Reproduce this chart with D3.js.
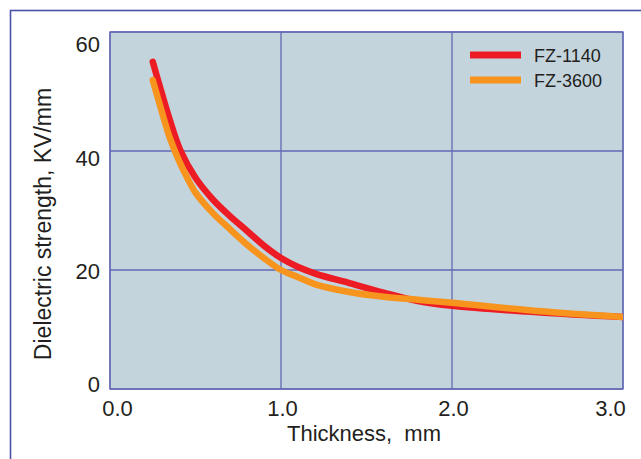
<!DOCTYPE html>
<html>
<head>
<meta charset="utf-8">
<script src="https://cdn.jsdelivr.net/npm/d3@7"></script>
<style>
  html, body { margin: 0; padding: 0; background: #ffffff; }
  svg { display: block; font-family: "Liberation Sans", Arial, Helvetica, sans-serif; }
</style>
</head>
<body>
<svg id="chart" width="641" height="459"></svg>
<script>
// ---- data ----
const xTicks = [0, 1, 2, 3];
const yTicks = [0, 20, 40, 60];
const seriesNames = ["FZ-1140", "FZ-3600"];
const seriesColors = ["#ed1c24", "#f7941d"];

const fz1140X = [0.25, 0.30, 0.35, 0.41, 0.50, 0.60, 0.70, 0.80, 0.90, 1.00, 1.10, 1.20, 1.40, 1.60, 1.80, 2.00, 2.50, 3.00];
const fz1140Y = [55.0, 50.0, 45.2, 40.2, 35.5, 31.9, 29.1, 26.6, 24.1, 22.0, 20.5, 19.4, 17.8, 16.2, 14.8, 14.0, 12.9, 12.1];

const fz3600X = [0.25, 0.30, 0.35, 0.40, 0.45, 0.50, 0.60, 0.70, 0.80, 0.90, 1.00, 1.10, 1.20, 1.40, 1.60, 1.80, 2.00, 2.50, 3.00];
const fz3600Y = [51.9, 46.9, 42.2, 38.6, 35.6, 33.0, 29.6, 26.9, 24.3, 22.0, 20.0, 18.8, 17.6, 16.3, 15.5, 15.0, 14.5, 13.1, 12.1];

const xTitle = "Thickness,  mm";
const yTitle = "Dielectric strength, KV/mm";

// ---- layout ----
const svg = d3.select("#chart");
const plot = { left: 110, top: 32, right: 623, bottom: 389 };
const x = d3.scaleLinear().domain([0, 3]).range([plot.left, plot.right]);
const y = d3.scaleLinear().domain([0, 60]).range([plot.bottom, plot.top]);

const frameColor = "#4b51a6";
const gridColor = "#6369b4";
const textColor = "#231f20";

// outer frame
svg.append("rect")
  .attr("x", 10.5).attr("y", 10.5)
  .attr("width", 700).attr("height", 500)
  .attr("fill", "none").attr("stroke", frameColor).attr("stroke-width", 1.6);

// plot background
svg.append("rect")
  .attr("x", plot.left).attr("y", plot.top)
  .attr("width", plot.right - plot.left).attr("height", plot.bottom - plot.top)
  .attr("fill", "#c4d4dd");

// grid
const grid = svg.append("g");
grid.selectAll("line.v").data(xTicks).join("line")
  .attr("x1", d => x(d)).attr("x2", d => x(d))
  .attr("y1", plot.top).attr("y2", plot.bottom)
  .attr("stroke", gridColor).attr("stroke-width", 1.3);
grid.selectAll("line.h").data(yTicks).join("line")
  .attr("x1", plot.left).attr("x2", plot.right)
  .attr("y1", d => y(d)).attr("y2", d => y(d))
  .attr("stroke", gridColor).attr("stroke-width", 1.3);
svg.append("rect")
  .attr("x", plot.left).attr("y", plot.top)
  .attr("width", plot.right - plot.left).attr("height", plot.bottom - plot.top)
  .attr("fill", "none").attr("stroke", gridColor).attr("stroke-width", 1.3);

// axes (labels only)
const xAxis = d3.axisBottom(x).tickValues(xTicks).tickFormat(d3.format(".1f")).tickSize(0).tickPadding(0);
const gx = svg.append("g").attr("transform", `translate(0,${plot.bottom})`).call(xAxis);
gx.select(".domain").remove();
gx.selectAll("text")
  .attr("font-size", 22).attr("fill", textColor)
  .attr("font-family", "Liberation Sans, Arial, sans-serif")
  .attr("y", 27).attr("dy", 0)
  .attr("dx", (d, i) => i === 0 ? 7 : (i === xTicks.length - 1 ? -13 : 1));

const yAxis = d3.axisLeft(y).tickValues(yTicks).tickFormat(d3.format("d")).tickSize(0).tickPadding(10);
const gy = svg.append("g").attr("transform", `translate(${plot.left},0)`).call(yAxis);
gy.select(".domain").remove();
gy.selectAll("text")
  .attr("font-size", 22).attr("fill", textColor)
  .attr("font-family", "Liberation Sans, Arial, sans-serif")
  .attr("dy", d => (0.35 * 22 - 5 + d * 17 / 60).toFixed(1));

// axis titles
svg.append("text")
  .attr("x", 287).attr("y", 441)
  .attr("font-size", 22).attr("fill", textColor)
  .style("white-space", "pre")
  .text(xTitle);

svg.append("text")
  .attr("transform", "translate(51,224) rotate(-90)")
  .attr("text-anchor", "middle")
  .attr("font-size", 23).attr("fill", textColor)
  .text(yTitle);

// lines
svg.append("clipPath").attr("id", "plotclip").append("rect")
  .attr("x", plot.left).attr("y", plot.top - 10)
  .attr("width", plot.right - plot.left).attr("height", plot.bottom - plot.top + 10);

const line = d3.line().x(d => x(d[0])).y(d => y(d[1])).curve(d3.curveCatmullRom.alpha(0.5));
const series = [
  d3.zip(fz1140X, fz1140Y),
  d3.zip(fz3600X, fz3600Y)
];
const lg = svg.append("g").attr("clip-path", "url(#plotclip)");
series.forEach((s, i) => {
  lg.append("path")
    .attr("d", line(s))
    .attr("fill", "none")
    .attr("stroke", seriesColors[i])
    .attr("stroke-width", 6.5)
    .attr("stroke-linecap", "round")
    .attr("stroke-linejoin", "round");
});

// legend
const legend = svg.append("g");
seriesNames.forEach((name, i) => {
  const ly = 55 + i * 25;
  legend.append("line")
    .attr("x1", 470).attr("x2", 521)
    .attr("y1", ly).attr("y2", ly)
    .attr("stroke", seriesColors[i]).attr("stroke-width", 7);
  legend.append("text")
    .attr("x", 534).attr("y", ly + 7)
    .attr("font-size", 18).attr("fill", textColor)
    .text(name);
});
</script>
</body>
</html>
